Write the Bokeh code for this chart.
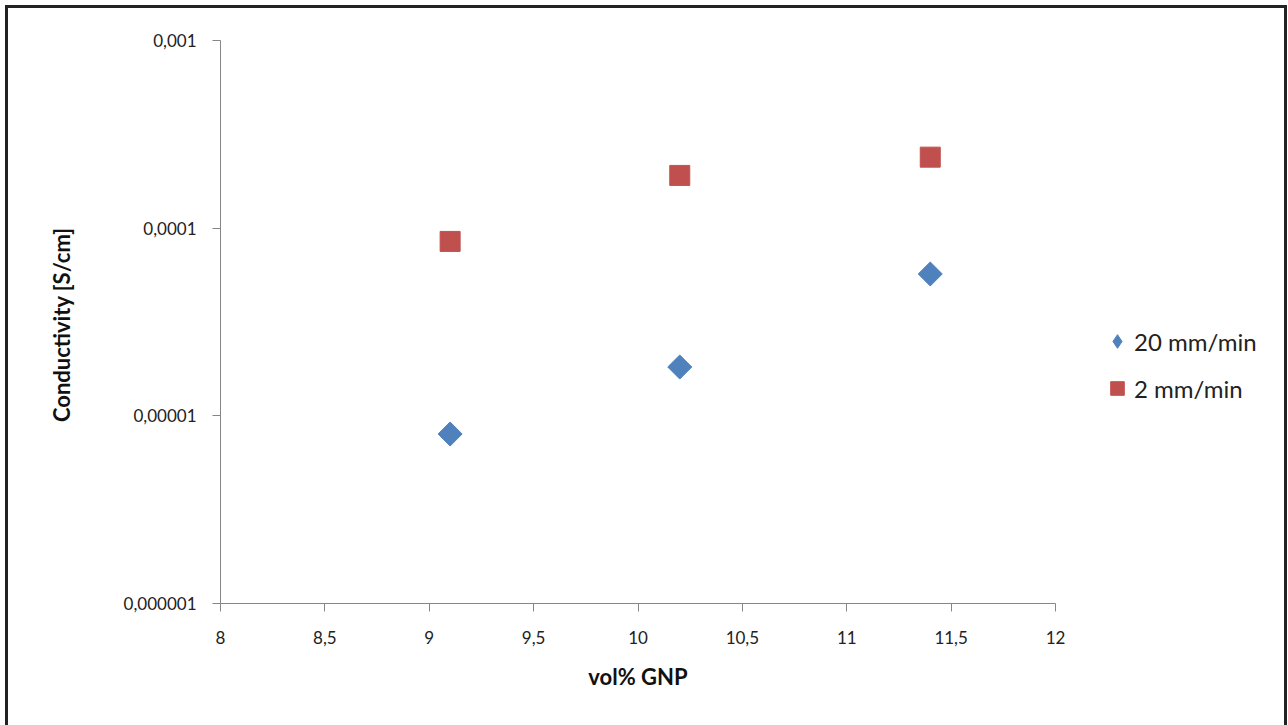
import math
from bokeh.plotting import figure
from bokeh.layouts import row
from bokeh.models import FixedTicker, Legend, LegendItem, Range1d
from bokeh.embed import file_html
from bokeh.resources import INLINE

x_vals = [9.1, 10.2, 11.4]
y_20 = [8.0e-6, 1.82e-5, 5.7e-5]
y_2 = [8.5e-5, 1.91e-4, 2.39e-4]
series_names = ["20 mm/min", "2 mm/min"]
x_ticks = [8, 8.5, 9, 9.5, 10, 10.5, 11, 11.5, 12]
x_tick_labels = ["8", "8,5", "9", "9,5", "10", "10,5", "11", "11,5", "12"]
y_ticks = [1e-6, 1e-5, 1e-4, 1e-3]
y_tick_labels = ["0,000001", "0,00001", "0,0001", "0,001"]

FONT = "Lato"
AXIS_COLOR = "#868686"
BLUE = "#4f81bd"
RED = "#c0504d"

p = figure(width=1067, height=725, x_range=(8, 12), y_range=(1e-6, 1e-3),
           y_axis_type="log", output_backend="svg", toolbar_location=None,
           min_border_left=212, min_border_top=32, min_border_right=20,
           min_border_bottom=130)
p.outline_line_color = None
p.xgrid.grid_line_color = None
p.ygrid.grid_line_color = None

p.xaxis.ticker = FixedTicker(ticks=x_ticks, minor_ticks=[])
p.xaxis.major_label_overrides = {t: l for t, l in zip(x_ticks, x_tick_labels)}
p.yaxis.ticker = FixedTicker(ticks=y_ticks, minor_ticks=[])
p.yaxis.major_label_overrides = {t: l for t, l in zip(y_ticks, y_tick_labels)}

for ax in (p.xaxis, p.yaxis):
    ax.axis_line_color = AXIS_COLOR
    ax.major_tick_line_color = AXIS_COLOR
    ax.major_tick_out = 8
    ax.major_tick_in = 0
    ax.minor_tick_line_color = None
    ax.major_label_text_font = FONT
    ax.major_label_text_font_size = "17px"
    ax.major_label_text_color = "#222222"
    ax.axis_label_text_font = FONT
    ax.axis_label_text_font_size = "22px"
    ax.axis_label_text_font_style = "bold"
    ax.axis_label_text_color = "#111111"

p.xaxis.axis_label = "vol% GNP"
p.yaxis.axis_label = "Conductivity  [S/cm]"
p.xaxis.major_label_standoff = 19
p.yaxis.major_label_standoff = 16
p.xaxis.axis_label_standoff = 16
p.yaxis.axis_label_standoff = 46

p.scatter(x_vals, y_20, marker="square", size=17, angle=math.pi / 4,
          fill_color=BLUE, line_color=BLUE)
p.scatter(x_vals, y_2, marker="square", size=20,
          fill_color=RED, line_color=RED)

# legend panel (separate canvas so it is not clipped by the plot frame)
lf = figure(width=1276 - 1067, height=725, x_range=Range1d(0, 1),
            y_range=Range1d(0, 1), output_backend="svg", toolbar_location=None,
            x_axis_location=None, y_axis_location=None,
            min_border_left=0, min_border_right=0, min_border_top=0,
            min_border_bottom=0)
lf.outline_line_color = None
lf.grid.visible = False
lr1 = lf.scatter(x_vals, y_20, marker="diamond", size=17,
                 fill_color=BLUE, line_color=BLUE)
lr2 = lf.scatter(x_vals, y_2, marker="square", size=20,
                 fill_color=RED, line_color=RED)

legend = Legend(items=[LegendItem(label=series_names[0], renderers=[lr1]),
                       LegendItem(label=series_names[1], renderers=[lr2])],
                location=(25, 196), border_line_color=None,
                background_fill_alpha=0, label_text_font=FONT,
                label_text_font_size="24px", label_text_color="#222222",
                glyph_width=34, glyph_height=38, label_height=34,
                spacing=9, label_standoff=0, padding=0, margin=0)
lf.add_layout(legend, "center")

lay = row(p, lf)
lay.styles = {"margin": "5px 0 0 5px", "border": "3px solid #222222"}

open("out.html", "w").write(file_html(lay, INLINE))
